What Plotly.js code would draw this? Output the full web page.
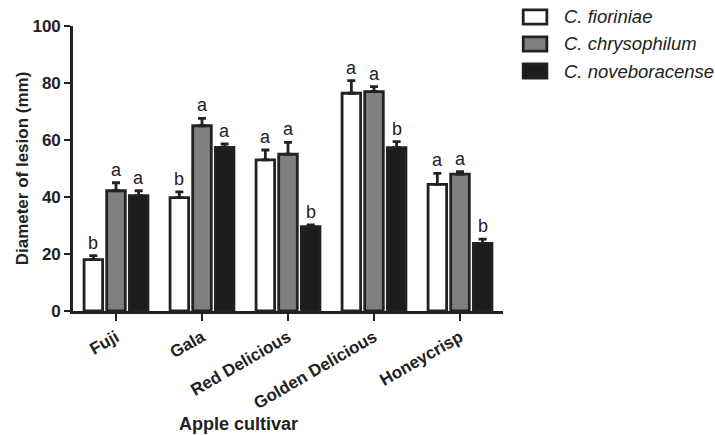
<!DOCTYPE html>
<html>
<head>
<meta charset="utf-8">
<script src="https://cdn.plot.ly/plotly-3.0.1.min.js"></script>
<style>html,body{margin:0;padding:0;background:#fff;}#chart{width:715px;height:435px;}</style>
</head>
<body>
<div id="chart"></div>
<script>
const cultivars = ["Fuji", "Gala", "Red Delicious", "Golden Delicious", "Honeycrisp"];
const seriesNames = ["C. fioriniae", "C. chrysophilum", "C. noveboracense"];
const fioriniae = [18, 39.8, 53, 76.4, 44.4];
const chrysophilum = [42.2, 65, 55, 77, 48];
const noveboracense = [40.5, 57.4, 29.6, 57.3, 23.7];
const errFioriniae = [1.4, 2.0, 3.5, 4.4, 3.9];
const errChrysophilum = [2.8, 2.6, 4.2, 1.7, 0.9];
const errNoveboracense = [1.7, 1.2, 0.6, 2.1, 1.5];
const lettersFioriniae = ["b", "b", "a", "a", "a"];
const lettersChrysophilum = ["a", "a", "a", "a", "a"];
const lettersNoveboracense = ["a", "a", "b", "b", "b"];
const yTicks = [0, 20, 40, 60, 80, 100];

const values = [fioriniae, chrysophilum, noveboracense];
const errs = [errFioriniae, errChrysophilum, errNoveboracense];
const letters = [lettersFioriniae, lettersChrysophilum, lettersNoveboracense];
const fills = ["#ffffff", "#808080", "#1c1c1c"];
const ink = "#222222";
const font = "Liberation Sans, Arial, sans-serif";

const bargap = 0.21, bargroupgap = 0.18;
const slot = (1 - bargap) / 3;

const traces = values.map((v, j) => ({
  type: "bar",
  name: seriesNames[j],
  x: cultivars,
  y: v,
  showlegend: false,
  marker: {color: fills[j], line: {color: ink, width: 2.8}},
  error_y: {type: "data", array: errs[j], arrayminus: errs[j].map(() => 0), symmetric: false,
            color: ink, thickness: 2.8, width: 4},
  hoverinfo: "skip"
}));

const annotations = [];
values.forEach((v, j) => {
  v.forEach((val, i) => {
    annotations.push({
      x: i + (j - 1) * slot, y: val + errs[j][i], xref: "x", yref: "y",
      text: letters[j][i], showarrow: false, yanchor: "bottom", yshift: 1,
      font: {family: font, size: 18, color: ink}
    });
  });
});
annotations.push({
  x: 0.384, y: 0, xref: "paper", yref: "paper", yanchor: "top", yshift: -101,
  text: "<b>Apple cultivar</b>", showarrow: false,
  font: {family: font, size: 18, color: ink}
});

// custom legend (plot area: 430 x 285 px)
const legRows = [1.0316, 0.937, 0.842];
const shapes = [];
seriesNames.forEach((nm, j) => {
  const yc = legRows[j];
  shapes.push({type: "rect", xref: "paper", yref: "paper",
    x0: 1.047, x1: 1.102, y0: yc - 0.025, y1: yc + 0.025,
    fillcolor: fills[j], line: {color: ink, width: 2.8}});
  annotations.push({x: 1.137, y: yc, xref: "paper", yref: "paper", xanchor: "left", yanchor: "middle",
    text: "<i>" + nm + "</i>", showarrow: false, font: {family: font, size: 18.5, color: ink}});
});

const layout = {
  width: 715, height: 435,
  margin: {l: 73, r: 212, t: 26, b: 124},
  paper_bgcolor: "#fff", plot_bgcolor: "#fff",
  barmode: "group", bargap: bargap, bargroupgap: bargroupgap,
  showlegend: false,
  xaxis: {
    type: "category", range: [-0.5, 4.5], showline: true, linecolor: ink, linewidth: 2.8,
    ticks: "outside", ticklen: 7, tickwidth: 2, tickcolor: ink, tickangle: -30,
    tickfont: {family: font, size: 17, color: ink, weight: "bold"},
    showgrid: false, zeroline: false
  },
  yaxis: {
    range: [0, 100], tickvals: yTicks, showline: true, linecolor: ink, linewidth: 2.8,
    ticks: "outside", ticklen: 6, tickwidth: 2, tickcolor: ink,
    tickfont: {family: font, size: 17, color: ink, weight: "bold"},
    title: {text: "<b>Diameter of lesion (mm)</b>", font: {family: font, size: 17, color: ink}, standoff: 0},
    showgrid: false, zeroline: false
  },
  shapes: shapes,
  annotations: annotations,
  font: {family: font, color: ink}
};

Plotly.newPlot("chart", traces, layout, {displayModeBar: false, staticPlot: true});
</script>
</body>
</html>
